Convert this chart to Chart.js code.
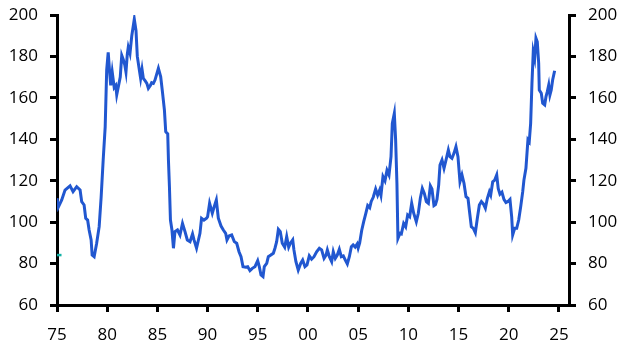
<!DOCTYPE html>
<html>
<head>
<meta charset="utf-8">
<script src="https://cdn.jsdelivr.net/npm/chart.js@4.4.0/dist/chart.umd.min.js"></script>
<style>
  html, body { margin: 0; padding: 0; background: #fff; }
  #wrap { width: 630px; height: 354px; }
</style>
</head>
<body>
<div id="wrap"><canvas id="chart" width="630" height="354"></canvas></div>
<script>
// index level (year as decimal)
const years = [
  1975.0, 1975.13, 1975.47, 1975.8, 1976.3, 1976.6, 1976.96, 1977.3, 1977.46, 1977.7,
  1977.86, 1978.05, 1978.2, 1978.4, 1978.5, 1978.7, 1978.95, 1979.2, 1979.4, 1979.6,
  1979.8, 1979.95, 1980.1, 1980.25, 1980.35, 1980.5, 1980.7, 1980.85, 1980.95, 1981.3,
  1981.45, 1981.6, 1981.75, 1981.87, 1982.0, 1982.1, 1982.27, 1982.45, 1982.7, 1982.87,
  1983.0, 1983.2, 1983.33, 1983.47, 1983.6, 1983.77, 1983.95, 1984.1, 1984.3, 1984.43,
  1984.6, 1984.76, 1985.1, 1985.33, 1985.5, 1985.7, 1985.83, 1986.03, 1986.1, 1986.2,
  1986.3, 1986.45, 1986.6, 1986.75, 1987.0, 1987.25, 1987.5, 1987.75, 1987.98, 1988.25,
  1988.5, 1988.65, 1988.9, 1989.24, 1989.4, 1989.64, 1989.9, 1990.0, 1990.2, 1990.47,
  1990.66, 1990.87, 1991.07, 1991.34, 1991.57, 1991.8, 1991.93, 1992.13, 1992.4, 1992.66,
  1992.9, 1993.13, 1993.33, 1993.53, 1993.8, 1994.0, 1994.22, 1994.45, 1994.72, 1994.99,
  1995.15, 1995.32, 1995.52, 1995.65, 1995.89, 1996.05, 1996.3, 1996.55, 1996.71, 1996.88,
  1997.05, 1997.24, 1997.44, 1997.68, 1997.88, 1998.08, 1998.25, 1998.48, 1998.6, 1998.8,
  1999.03, 1999.27, 1999.47, 1999.7, 1999.9, 2000.13, 2000.36, 2000.6, 2000.86, 2001.13,
  2001.36, 2001.6, 2001.8, 2001.93, 2002.13, 2002.36, 2002.52, 2002.72, 2002.92, 2003.12,
  2003.32, 2003.52, 2003.72, 2003.92, 2004.12, 2004.32, 2004.5, 2004.7, 2004.9, 2005.0,
  2005.15, 2005.35, 2005.55, 2005.75, 2005.95, 2006.15, 2006.3, 2006.5, 2006.74, 2006.94,
  2007.14, 2007.27, 2007.47, 2007.67, 2007.87, 2008.07, 2008.27, 2008.4, 2008.6, 2008.73,
  2008.86, 2008.96, 2009.16, 2009.3, 2009.53, 2009.73, 2009.93, 2010.13, 2010.33, 2010.53,
  2010.79, 2010.99, 2011.19, 2011.39, 2011.59, 2011.79, 2011.99, 2012.19, 2012.35, 2012.55,
  2012.7, 2012.85, 2013.02, 2013.15, 2013.35, 2013.55, 2013.75, 2013.98, 2014.14, 2014.34,
  2014.54, 2014.74, 2014.94, 2015.14, 2015.34, 2015.54, 2015.74, 2015.94, 2016.07, 2016.27,
  2016.47, 2016.67, 2016.87, 2017.07, 2017.27, 2017.47, 2017.67, 2017.87, 2018.07, 2018.2,
  2018.4, 2018.6, 2018.8, 2018.95, 2019.12, 2019.32, 2019.52, 2019.72, 2019.92, 2020.12,
  2020.29, 2020.39, 2020.59, 2020.79, 2020.99, 2021.19, 2021.39, 2021.51, 2021.71, 2021.91,
  2022.04, 2022.18, 2022.31, 2022.44, 2022.58, 2022.71, 2022.84, 2022.98, 2023.04, 2023.24,
  2023.38, 2023.58, 2023.71, 2023.84, 2023.98, 2024.1, 2024.23, 2024.37, 2024.57
];
const values = [
  111.5, 107.2, 110.7, 115.5, 117.5, 114.7, 117.1, 115.5, 109.9, 108.3,
  101.9, 101.0, 96.2, 91.4, 84.1, 83.3, 89.8, 97.8, 112.3, 130.0,
  146.0, 173.5, 182.0, 172.0, 166.0, 172.5, 165.0, 166.0, 161.5, 170.0,
  180.5, 178.5, 176.0, 172.5, 181.0, 184.5, 181.5, 190.0, 198.0, 192.5,
  180.0, 173.5, 169.4, 173.8, 169.4, 168.3, 167.0, 164.6, 166.0, 167.3,
  167.0, 168.6, 174.3, 170.2, 163.0, 154.1, 143.7, 142.6, 130.0, 117.1,
  101.0, 96.2, 87.4, 95.4, 96.2, 93.8, 99.4, 95.4, 91.4, 90.6,
  94.3, 91.4, 87.4, 94.6, 101.9, 101.0, 101.9, 102.6, 109.1, 104.3,
  107.5, 110.7, 101.9, 98.1, 96.2, 94.6, 91.4, 93.3, 93.8, 90.6,
  89.8, 85.7, 83.3, 78.5, 78.2, 78.5, 76.6, 77.7, 78.5, 81.4,
  78.5, 74.5, 73.7, 78.5, 80.1, 83.3, 84.1, 85.0, 87.4, 90.6,
  96.5, 95.4, 89.8, 87.9, 93.0, 87.9, 89.8, 91.4, 86.6, 80.9,
  76.9, 80.1, 81.7, 78.5, 79.3, 83.7, 82.1, 83.3, 85.7, 87.4,
  86.6, 82.5, 84.1, 86.6, 83.3, 80.9, 85.7, 82.5, 84.1, 86.9,
  83.3, 83.7, 81.7, 79.8, 83.3, 88.1, 89.0, 88.0, 89.5, 87.5,
  90.0, 96.0, 100.2, 104.0, 108.0, 107.0, 110.0, 112.0, 116.0, 113.0,
  115.5, 113.0, 122.0, 120.0, 125.0, 122.8, 131.6, 147.7, 152.5, 139.7,
  118.8, 92.2, 94.6, 94.3, 99.4, 97.8, 103.5, 102.6, 109.1, 104.3,
  100.2, 104.3, 111.5, 116.3, 113.9, 109.9, 109.1, 117.5, 116.0, 108.0,
  108.5, 111.0, 118.0, 127.6, 130.0, 126.0, 130.0, 134.8, 131.6, 130.8,
  133.2, 136.4, 131.6, 119.5, 122.8, 118.8, 112.3, 111.5, 105.9, 97.8,
  97.0, 94.9, 101.9, 108.3, 109.9, 108.8, 106.7, 111.5, 114.7, 113.1,
  119.5, 120.3, 122.8, 116.3, 113.5, 114.5, 111.0, 109.5, 110.0, 111.0,
  102.6, 93.8, 97.0, 97.0, 101.0, 107.5, 114.7, 120.3, 126.0, 139.7,
  138.8, 147.7, 167.0, 182.3, 179.1, 188.8, 187.1, 176.7, 163.8, 162.2,
  157.4, 156.6, 160.6, 163.0, 166.2, 161.4, 163.8, 168.6, 173.1
];
// small teal stub at the left edge
const markYears = [1975.0, 1975.45];
const markValues = [84.1, 84.1];

const xTicks = [1975, 1980, 1985, 1990, 1995, 2000, 2005, 2010, 2015, 2020, 2025];
const yTicks = [60, 80, 100, 120, 140, 160, 180, 200];

const tickFont = { family: "'Open Sans', 'Noto Sans', sans-serif", size: 17 };

function axisGrid() {
    return { drawOnChartArea: false, drawTicks: true, tickLength: 7, lineWidth: 3, color: '#000' };
}

function yAxis(pos, w) {
    return {
        type: 'linear',
        position: pos,
        min: 60,
        max: 200,
        afterBuildTicks: s => { s.ticks = yTicks.map(v => ({ value: v })); },
        afterFit: s => {
            s.width = w;
            s.paddingTop = 0;      // keep the plot top fixed at layout padding
            s.paddingBottom = 0;
        },
        ticks: { font: tickFont, color: '#000', padding: 12 },
        grid: axisGrid(),
        border: { display: true, color: '#000', width: 3 }
    };
}

const ctx = document.getElementById('chart').getContext('2d');
new Chart(ctx, {
    type: 'line',
    data: {
        datasets: [
            {
                data: years.map((yr, i) => ({ x: yr, y: values[i] })),
                borderColor: '#2157D0',
                borderWidth: 3,
                pointRadius: 0,
                tension: 0,
                yAxisID: 'y'
            },
            {
                data: markYears.map((yr, i) => ({ x: yr, y: markValues[i] })),
                borderColor: '#12B2A6',
                borderWidth: 2.5,
                pointRadius: 0,
                yAxisID: 'y'
            }
        ]
    },
    options: {
        responsive: false,
        animation: false,
        devicePixelRatio: 1,
        layout: { padding: { top: 15, left: 0, right: 0, bottom: 0 } },
        plugins: { legend: { display: false }, tooltip: { enabled: false } },
        scales: {
            x: {
                type: 'linear',
                min: 1975,
                max: 2026,
                afterBuildTicks: s => { s.ticks = xTicks.map(v => ({ value: v })); },
                afterFit: s => {
                    s.height = 49;
                    s.paddingLeft = 0;
                    s.paddingRight = 0;
                },
                ticks: {
                    font: tickFont,
                    color: '#000',
                    padding: 13,
                    maxRotation: 0,
                    autoSkip: false,
                    callback: v => String(v % 100).padStart(2, '0')
                },
                grid: axisGrid(),
                border: { display: true, color: '#000', width: 3 }
            },
            y: yAxis('left', 57),
            y2: yAxis('right', 61)
        }
    }
});
</script>
</body>
</html>
